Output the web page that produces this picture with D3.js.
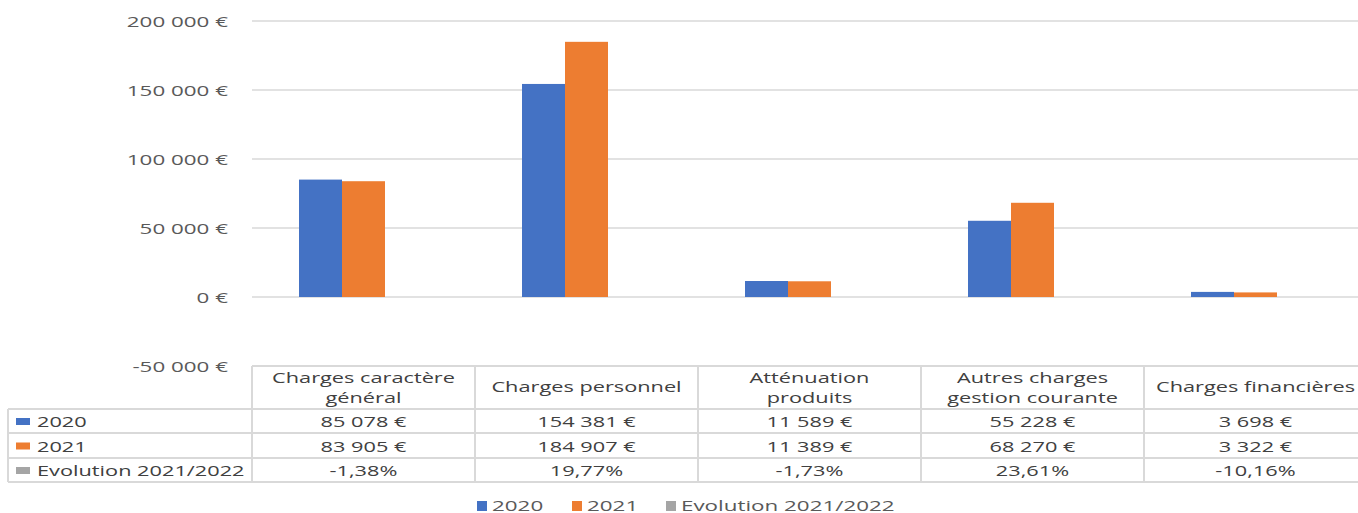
<!DOCTYPE html>
<html><head><meta charset="utf-8">
<script src="https://cdn.jsdelivr.net/npm/d3@7"></script>
<style>
html,body{margin:0;padding:0;background:#fff;}
svg{display:block;}
text{font-family:"Open Sans",sans-serif;}
</style></head>
<body>
<script>
const categories = [["Charges caractère","général"],["Charges personnel"],["Atténuation","produits"],["Autres charges","gestion courante"],["Charges financières"]];
const seriesNames = ["2020","2021","Evolution 2021/2022"];
const values2020 = [85078,154381,11589,55228,3698];
const values2021 = [83905,184907,11389,68270,3322];
const evolution = [-0.0138,0.1977,-0.0173,0.2361,-0.1016];
const labels2020 = ["85 078 €","154 381 €","11 589 €","55 228 €","3 698 €"];
const labels2021 = ["83 905 €","184 907 €","11 389 €","68 270 €","3 322 €"];
const labelsEvol = ["-1,38%","19,77%","-1,73%","23,61%","-10,16%"];
const yTicks = [-50000,0,50000,100000,150000,200000];
const yTickLabels = ["-50 000 €","0 €","50 000 €","100 000 €","150 000 €","200 000 €"];
const colors = ["#4472C4","#ED7D31","#A5A5A5"];

const W=1358,H=513;
const svg=d3.select("body").append("svg").attr("width",W).attr("height",H);
const catKeys = categories.map(c=>c.join(" "));
const x=d3.scaleBand().domain(catKeys).range([252,1367]);
const xs=d3.scaleBand().domain(seriesNames).range([0,x.bandwidth()]).paddingOuter(1.093);
const y=d3.scaleLinear().domain([-50000,200000]).range([366,21]);

function stext(g,tx,ty,str,opts={}){
  return g.append("text").attr("transform",`translate(${tx},${ty}) scale(${opts.sx||1.45},1)`)
    .attr("text-anchor",opts.anchor||"middle").attr("dominant-baseline","central")
    .attr("font-size",opts.size||15).attr("fill",opts.fill||"#404040").text(str);
}

// gridlines
const grid=svg.append("g");
yTicks.forEach((t,i)=>{
  if(t!==-50000) grid.append("line").attr("x1",252).attr("x2",W).attr("y1",y(t)).attr("y2",y(t)).attr("stroke","#D9D9D9").attr("stroke-width",1.5);
  stext(svg,228,y(t),yTickLabels[i],{anchor:"end",fill:"#595959",size:14,sx:1.6});
});

// bars
const series=[values2020,values2021,evolution];
series.forEach((vals,si)=>{
  svg.append("g").selectAll("rect").data(vals).join("rect")
    .attr("x",(d,i)=>x(catKeys[i])+xs(seriesNames[si]))
    .attr("width",xs.bandwidth())
    .attr("y",d=>Math.min(y(d),y(0)))
    .attr("height",d=>Math.abs(y(d)-y(0)))
    .attr("fill",colors[si]);
});

// table
const rowY=[366,409,433,458,482];
const tb=svg.append("g");
const bc="#D9D9D9", bw=2;
tb.append("line").attr("x1",252).attr("x2",W).attr("y1",rowY[0]).attr("y2",rowY[0]).attr("stroke",bc).attr("stroke-width",bw);
for(let r=1;r<rowY.length;r++) tb.append("line").attr("x1",8).attr("x2",W).attr("y1",rowY[r]).attr("y2",rowY[r]).attr("stroke",bc).attr("stroke-width",bw);
tb.append("line").attr("x1",8).attr("x2",8).attr("y1",rowY[1]).attr("y2",rowY[4]).attr("stroke",bc).attr("stroke-width",bw);
catKeys.forEach(k=>{
  tb.append("line").attr("x1",x(k)).attr("x2",x(k)).attr("y1",rowY[0]).attr("y2",rowY[4]).attr("stroke",bc).attr("stroke-width",bw);
});
categories.forEach((c,i)=>{
  const cx=x(catKeys[i])+x.bandwidth()/2;
  if(c.length===1) stext(tb,cx,386,c[0]);
  else { stext(tb,cx,377,c[0]); stext(tb,cx,397,c[1]); }
});
const rowLabels=[labels2020,labels2021,labelsEvol];
rowLabels.forEach((labs,r)=>{
  const cy=(rowY[r+1]+rowY[r+2])/2;
  tb.append("rect").attr("x",16).attr("y",cy-3).attr("width",14).attr("height",7).attr("fill",colors[r]);
  stext(tb,37,cy,seriesNames[r],{anchor:"start"});
  labs.forEach((l,i)=>stext(tb,x(catKeys[i])+x.bandwidth()/2,cy,l));
});

// legend
const lg=svg.append("g");
const legX=[477,572,666];
seriesNames.forEach((s,i)=>{
  lg.append("rect").attr("x",legX[i]).attr("y",501).attr("width",10).attr("height",10).attr("fill",colors[i]);
  stext(lg,legX[i]+15,505,s,{anchor:"start",size:14,fill:"#595959",sx:1.6});
});
</script>
</body></html>
